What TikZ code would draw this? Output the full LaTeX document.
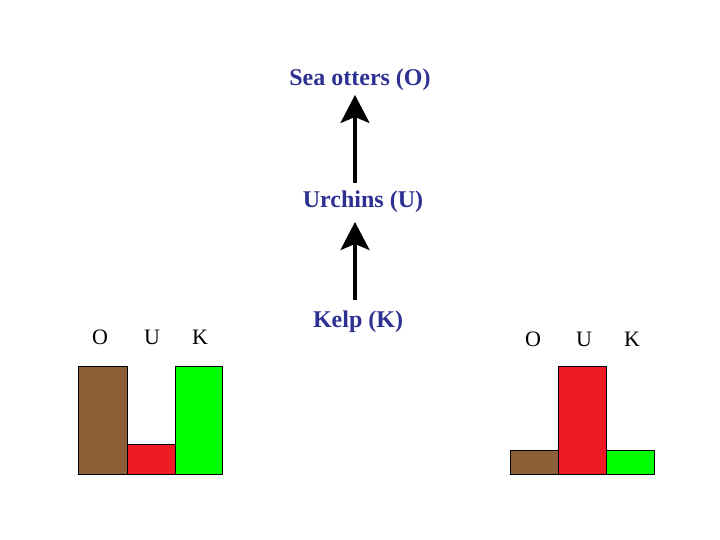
\documentclass[tikz,border=0pt]{standalone}
\usepackage{fontspec}
\setmainfont{Liberation Serif}
\usetikzlibrary{arrows.meta}
\definecolor{navy}{HTML}{2E3192}
\definecolor{otter}{HTML}{8C5F36}
\definecolor{urchin}{HTML}{ED1C24}
\definecolor{kelp}{HTML}{00FF00}
\begin{document}
\begin{tikzpicture}[x=1pt,y=-1pt,
  species/.style={text=navy,font=\fontsize{24}{28}\selectfont\bfseries,inner sep=0pt},
  axislabel/.style={font=\fontsize{22}{26}\selectfont,inner sep=0pt},
  bar/.style={draw=black,line width=0.8pt},
  arr/.style={line width=3.2pt,-{Stealth[length=28pt,width=29pt,inset=6pt]}}]
\useasboundingbox (0,0) rectangle (720,540);
% species labels
\node[species] (otters) at (360,80) {Sea otters (O)};
\node[species] (urchins) at (363,202) {Urchins (U)};
\node[species] (kelpn) at (358,322) {Kelp (K)};
% arrows
\coordinate (k0) at (355,300);
\coordinate (u1) at (355,222);
\coordinate (u0) at (355,183);
\coordinate (o1) at (355,95);
\draw[arr] (k0) -- (u1);
\draw[arr] (u0) -- (o1);
% left chart
\node[axislabel] (lo) at (100,337) {O};
\node[axislabel] (lu) at (152,337) {U};
\node[axislabel] (lk) at (200,337) {K};
\filldraw[bar,fill=otter] (78,366) rectangle (127,474);
\filldraw[bar,fill=urchin] (127,444) rectangle (175,474);
\filldraw[bar,fill=kelp] (175,366) rectangle (222,474);
% right chart
\node[axislabel] (ro) at (533,339) {O};
\node[axislabel] (ru) at (584,339) {U};
\node[axislabel] (rk) at (632,339) {K};
\filldraw[bar,fill=otter] (510,450) rectangle (558,474);
\filldraw[bar,fill=urchin] (558,366) rectangle (606,474);
\filldraw[bar,fill=kelp] (606,450) rectangle (654,474);
\end{tikzpicture}
\end{document}
